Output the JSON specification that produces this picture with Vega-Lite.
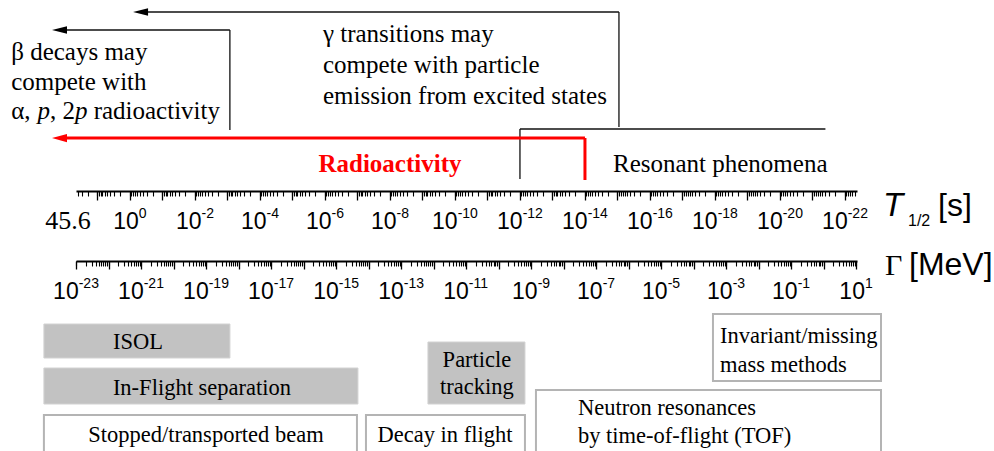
{
  "$schema": "https://vega.github.io/schema/vega-lite/v6.json",
  "width": 994,
  "height": 451,
  "autosize": {"type": "none"},
  "padding": 0,
  "background": "white",
  "config": {"view": {"stroke": null}},
  "datasets": {
    "tl": [
      {"t": 1, "e": "0", "y": 229},
      {"t": 1e-2, "e": "-2", "y": 229},
      {"t": 1e-4, "e": "-4", "y": 229},
      {"t": 1e-6, "e": "-6", "y": 229},
      {"t": 1e-8, "e": "-8", "y": 229},
      {"t": 1e-10, "e": "-10", "y": 229},
      {"t": 1e-12, "e": "-12", "y": 229},
      {"t": 1e-14, "e": "-14", "y": 229},
      {"t": 1e-16, "e": "-16", "y": 229},
      {"t": 1e-18, "e": "-18", "y": 229},
      {"t": 1e-20, "e": "-20", "y": 229},
      {"t": 1e-22, "e": "-22", "y": 229}
    ],
    "gl": [
      {"g": 1e-23, "e": "-23", "y": 299},
      {"g": 1e-21, "e": "-21", "y": 299},
      {"g": 1e-19, "e": "-19", "y": 299},
      {"g": 1e-17, "e": "-17", "y": 299},
      {"g": 1e-15, "e": "-15", "y": 299},
      {"g": 1e-13, "e": "-13", "y": 299},
      {"g": 1e-11, "e": "-11", "y": 299},
      {"g": 1e-9, "e": "-9", "y": 299},
      {"g": 1e-7, "e": "-7", "y": 299},
      {"g": 1e-5, "e": "-5", "y": 299},
      {"g": 1e-3, "e": "-3", "y": 299},
      {"g": 1e-1, "e": "-1", "y": 299},
      {"g": 10, "e": "1", "y": 299}
    ],
    "lines": [
      {"kind": "gamma", "t": 9e-16, "t2": 0.459, "y": 12, "y2": 12},
      {"kind": "gamma", "t": 9e-16, "t2": 9e-16, "y": 12, "y2": 127},
      {"kind": "beta", "t": 8.4e-4, "t2": 142.6, "y": 30, "y2": 30},
      {"kind": "beta", "t": 8.4e-4, "t2": 8.4e-4, "y": 30, "y2": 130},
      {"kind": "resonant", "t": 1e-12, "t2": 4e-22, "y": 129, "y2": 129},
      {"kind": "resonant", "t": 1e-12, "t2": 1e-12, "y": 129, "y2": 179},
      {"kind": "radioactivity", "t": 1e-14, "t2": 142.6, "y": 138, "y2": 138},
      {"kind": "radioactivity", "t": 1e-14, "t2": 1e-14, "y": 138, "y2": 180}
    ],
    "arrows": [
      {"kind": "gamma", "t": 0.8, "y": 12},
      {"kind": "beta", "t": 250, "y": 30},
      {"kind": "radioactivity", "t": 250, "y": 138}
    ],
    "grayBoxes": [
      {"name": "ISOL", "t": 442.9, "t2": 8.38e-4, "y": 324, "y2": 358},
      {"name": "In-Flight separation", "t": 442.9, "t2": 9.66e-8, "y": 368, "y2": 404},
      {"name": "Particle tracking", "t": 6.77e-10, "t2": 7.02e-13, "y": 342, "y2": 404}
    ],
    "openBoxes": [
      {"name": "Stopped/transported beam", "t": 442.9, "t2": 1.035e-7, "y": 415, "y2": 462},
      {"name": "Decay in flight", "t": 5.47e-8, "t2": 7.02e-13, "y": 415, "y2": 462},
      {"name": "Invariant/missing mass methods", "t": 1.153e-18, "t2": 7.8e-24, "y": 314, "y2": 381},
      {"name": "Neutron resonances by TOF", "t": 3.22e-13, "t2": 7.8e-24, "y": 390, "y2": 462}
    ],
    "notes": [
      {"label": "β decays may", "t": 4500, "y": 60},
      {"label": "compete with", "t": 4500, "y": 89.5},
      {"label": "α,", "t": 4500, "y": 119},
      {"label": ", 2", "t": 289.5, "y": 119},
      {"label": "radioactivity", "t": 13.05, "y": 119},
      {"label": "γ transitions may", "t": 1.153e-6, "y": 42},
      {"label": "compete with particle", "t": 1.153e-6, "y": 73},
      {"label": "emission from excited states", "t": 1.153e-6, "y": 103.5},
      {"label": "Resonant phenomena", "t": 1.374e-15, "y": 172}
    ],
    "italic": [
      {"label": "p", "t": 702, "y": 119},
      {"label": "p", "t": 49.25, "y": 119}
    ],
    "bold": [
      {"label": "Radioactivity", "t": 1e-8, "y": 172}
    ],
    "boxText": [
      {"label": "ISOL", "t": 0.567, "y": 349},
      {"label": "In-Flight separation", "t": 6.09e-3, "y": 395},
      {"label": "Stopped/transported beam", "t": 4.59e-3, "y": 442},
      {"label": "Decay in flight", "t": 2.03e-10, "y": 442},
      {"label": "Particle", "t": 2.1e-11, "y": 367},
      {"label": "tracking", "t": 2.1e-11, "y": 394}
    ],
    "boxTextLeft": [
      {"label": "Invariant/missing", "t": 7.02e-19, "y": 343},
      {"label": "mass methods", "t": 7.02e-19, "y": 372},
      {"label": "Neutron resonances", "t": 1.64e-14, "y": 415},
      {"label": "by time-of-flight (TOF)", "t": 1.64e-14, "y": 443}
    ],
    "start": [
      {"label": "45.6", "t": 80.86, "y": 229}
    ],
    "sansBig": [
      {"label": "[s]", "t": 1.374e-25, "y": 216},
      {"label": "[MeV]", "t": 1.074e-24, "y": 275}
    ],
    "sansItalic": [
      {"label": "T", "t": 6.78e-24, "y": 216}
    ],
    "sansSmall": [
      {"label": "1/2", "t": 1.153e-24, "y": 226}
    ],
    "serifBig": [
      {"label": "Γ", "t": 5.88e-24, "y": 275}
    ]
  },
  "layer": [
    {
      "resolve": {"axis": {"x": "independent"}},
      "layer": [
        {
          "data": {"name": "tl"},
          "transform": [{"filter": "length(datum.e) == 1"}],
          "mark": {"type": "text", "font": "Liberation Sans", "fontSize": 23, "align": "right", "baseline": "alphabetic", "dx": 8.9},
          "encoding": {
            "x": {"field": "t", "type": "quantitative", "scale": {"type": "log", "domain": [45.6, 4.27e-23], "range": [76, 857], "nice": false},
              "axis": {"orient": "bottom", "offset": -260, "labels": false, "title": null, "grid": false, "domain": true, "domainColor": "#000", "domainWidth": 2, "ticks": true, "tickColor": "#000", "tickWidth": 1.1, "tickCount": 40, "tickSize": 5}},
            "y": {"field": "y", "type": "quantitative", "scale": {"domain": [0, 451], "range": [0, 451]}, "axis": null},
            "text": {"value": "10"}
          }
        },
        {
          "data": {"name": "tl"},
          "transform": [{"filter": "length(datum.e) == 1"}],
          "mark": {"type": "text", "font": "Liberation Sans", "fontSize": 14, "align": "left", "baseline": "alphabetic", "dx": 8.9, "dy": -11},
          "encoding": {
            "x": {"field": "t", "type": "quantitative", "scale": {"type": "log", "domain": [45.6, 4.27e-23], "range": [76, 857], "nice": false},
              "axis": {"orient": "bottom", "offset": -260, "labels": false, "title": null, "grid": false, "domain": false, "ticks": true, "tickColor": "#000", "tickWidth": 1.3, "tickCount": 20, "tickSize": 9}},
            "y": {"field": "y", "type": "quantitative", "scale": {"domain": [0, 451], "range": [0, 451]}, "axis": null},
            "text": {"field": "e"}
          }
        },
        {
          "data": {"name": "tl"},
          "transform": [{"filter": "length(datum.e) == 2"}],
          "mark": {"type": "text", "font": "Liberation Sans", "fontSize": 23, "align": "right", "baseline": "alphabetic", "dx": 6.6},
          "encoding": {
            "x": {"field": "t", "type": "quantitative", "scale": {"type": "log", "domain": [45.6, 4.27e-23], "range": [76, 857], "nice": false}, "axis": null},
            "y": {"field": "y", "type": "quantitative", "scale": {"domain": [0, 451], "range": [0, 451]}, "axis": null},
            "text": {"value": "10"}
          }
        },
        {
          "data": {"name": "tl"},
          "transform": [{"filter": "length(datum.e) == 2"}],
          "mark": {"type": "text", "font": "Liberation Sans", "fontSize": 14, "align": "left", "baseline": "alphabetic", "dx": 6.6, "dy": -11},
          "encoding": {
            "x": {"field": "t", "type": "quantitative", "scale": {"type": "log", "domain": [45.6, 4.27e-23], "range": [76, 857], "nice": false}, "axis": null},
            "y": {"field": "y", "type": "quantitative", "scale": {"domain": [0, 451], "range": [0, 451]}, "axis": null},
            "text": {"field": "e"}
          }
        },
        {
          "data": {"name": "tl"},
          "transform": [{"filter": "length(datum.e) == 3"}],
          "mark": {"type": "text", "font": "Liberation Sans", "fontSize": 23, "align": "right", "baseline": "alphabetic", "dx": 2.7},
          "encoding": {
            "x": {"field": "t", "type": "quantitative", "scale": {"type": "log", "domain": [45.6, 4.27e-23], "range": [76, 857], "nice": false}, "axis": null},
            "y": {"field": "y", "type": "quantitative", "scale": {"domain": [0, 451], "range": [0, 451]}, "axis": null},
            "text": {"value": "10"}
          }
        },
        {
          "data": {"name": "tl"},
          "transform": [{"filter": "length(datum.e) == 3"}],
          "mark": {"type": "text", "font": "Liberation Sans", "fontSize": 14, "align": "left", "baseline": "alphabetic", "dx": 2.7, "dy": -11},
          "encoding": {
            "x": {"field": "t", "type": "quantitative", "scale": {"type": "log", "domain": [45.6, 4.27e-23], "range": [76, 857], "nice": false}, "axis": null},
            "y": {"field": "y", "type": "quantitative", "scale": {"domain": [0, 451], "range": [0, 451]}, "axis": null},
            "text": {"field": "e"}
          }
        },
        {
          "data": {"name": "start"},
          "mark": {"type": "text", "font": "Liberation Serif", "fontSize": 26, "align": "center", "baseline": "alphabetic"},
          "encoding": {
            "x": {"field": "t", "type": "quantitative", "scale": {"type": "log", "domain": [45.6, 4.27e-23], "range": [76, 857], "nice": false}, "axis": null},
            "y": {"field": "y", "type": "quantitative", "scale": {"domain": [0, 451], "range": [0, 451]}, "axis": null},
            "text": {"field": "label"}
          }
        },
        {
          "data": {"name": "grayBoxes"},
          "mark": {"type": "rect", "fill": "#c2c2c2", "stroke": "#d2d2d2", "strokeWidth": 1},
          "encoding": {
            "x": {"field": "t", "type": "quantitative", "scale": {"type": "log", "domain": [45.6, 4.27e-23], "range": [76, 857], "nice": false}, "axis": null},
            "x2": {"field": "t2"},
            "y": {"field": "y", "type": "quantitative", "scale": {"domain": [0, 451], "range": [0, 451]}, "axis": null},
            "y2": {"field": "y2"}
          }
        },
        {
          "data": {"name": "openBoxes"},
          "mark": {"type": "rect", "fill": "white", "stroke": "#b4b4b4", "strokeWidth": 2},
          "encoding": {
            "x": {"field": "t", "type": "quantitative", "scale": {"type": "log", "domain": [45.6, 4.27e-23], "range": [76, 857], "nice": false}, "axis": null},
            "x2": {"field": "t2"},
            "y": {"field": "y", "type": "quantitative", "scale": {"domain": [0, 451], "range": [0, 451]}, "axis": null},
            "y2": {"field": "y2"}
          }
        },
        {
          "data": {"name": "lines"},
          "transform": [{"filter": "datum.kind != 'radioactivity'"}],
          "mark": {"type": "rule", "color": "#111", "strokeWidth": 1.3},
          "encoding": {
            "x": {"field": "t", "type": "quantitative", "scale": {"type": "log", "domain": [45.6, 4.27e-23], "range": [76, 857], "nice": false}, "axis": null},
            "x2": {"field": "t2"},
            "y": {"field": "y", "type": "quantitative", "scale": {"domain": [0, 451], "range": [0, 451]}, "axis": null},
            "y2": {"field": "y2"}
          }
        },
        {
          "data": {"name": "lines"},
          "transform": [{"filter": "datum.kind == 'radioactivity'"}],
          "mark": {"type": "rule", "color": "#ff0000", "strokeWidth": 3},
          "encoding": {
            "x": {"field": "t", "type": "quantitative", "scale": {"type": "log", "domain": [45.6, 4.27e-23], "range": [76, 857], "nice": false}, "axis": null},
            "x2": {"field": "t2"},
            "y": {"field": "y", "type": "quantitative", "scale": {"domain": [0, 451], "range": [0, 451]}, "axis": null},
            "y2": {"field": "y2"}
          }
        },
        {
          "data": {"name": "arrows"},
          "transform": [{"filter": "datum.kind != 'radioactivity'"}],
          "mark": {"type": "point", "shape": "M 0 0 L 2 -0.5 L 2 0.5 Z", "size": 225, "filled": true, "color": "#000", "opacity": 1, "strokeWidth": 0},
          "encoding": {
            "x": {"field": "t", "type": "quantitative", "scale": {"type": "log", "domain": [45.6, 4.27e-23], "range": [76, 857], "nice": false}, "axis": null},
            "y": {"field": "y", "type": "quantitative", "scale": {"domain": [0, 451], "range": [0, 451]}, "axis": null}
          }
        },
        {
          "data": {"name": "arrows"},
          "transform": [{"filter": "datum.kind == 'radioactivity'"}],
          "mark": {"type": "point", "shape": "M 0 0 L 2 -0.55 L 2 0.55 Z", "size": 225, "filled": true, "color": "#ff0000", "opacity": 1, "strokeWidth": 0},
          "encoding": {
            "x": {"field": "t", "type": "quantitative", "scale": {"type": "log", "domain": [45.6, 4.27e-23], "range": [76, 857], "nice": false}, "axis": null},
            "y": {"field": "y", "type": "quantitative", "scale": {"domain": [0, 451], "range": [0, 451]}, "axis": null}
          }
        },
        {
          "data": {"name": "notes"},
          "mark": {"type": "text", "font": "Liberation Serif", "fontSize": 25, "align": "left", "baseline": "alphabetic", "color": "#000"},
          "encoding": {
            "x": {"field": "t", "type": "quantitative", "scale": {"type": "log", "domain": [45.6, 4.27e-23], "range": [76, 857], "nice": false}, "axis": null},
            "y": {"field": "y", "type": "quantitative", "scale": {"domain": [0, 451], "range": [0, 451]}, "axis": null},
            "text": {"field": "label"}
          }
        },
        {
          "data": {"name": "italic"},
          "mark": {"type": "text", "font": "Liberation Serif", "fontSize": 25, "fontStyle": "italic", "align": "left", "baseline": "alphabetic", "color": "#000"},
          "encoding": {
            "x": {"field": "t", "type": "quantitative", "scale": {"type": "log", "domain": [45.6, 4.27e-23], "range": [76, 857], "nice": false}, "axis": null},
            "y": {"field": "y", "type": "quantitative", "scale": {"domain": [0, 451], "range": [0, 451]}, "axis": null},
            "text": {"field": "label"}
          }
        },
        {
          "data": {"name": "bold"},
          "mark": {"type": "text", "font": "Liberation Serif", "fontSize": 25, "fontWeight": "bold", "align": "center", "baseline": "alphabetic", "color": "#ff0000"},
          "encoding": {
            "x": {"field": "t", "type": "quantitative", "scale": {"type": "log", "domain": [45.6, 4.27e-23], "range": [76, 857], "nice": false}, "axis": null},
            "y": {"field": "y", "type": "quantitative", "scale": {"domain": [0, 451], "range": [0, 451]}, "axis": null},
            "text": {"field": "label"}
          }
        },
        {
          "data": {"name": "boxText"},
          "mark": {"type": "text", "font": "Liberation Serif", "fontSize": 22.5, "align": "center", "baseline": "alphabetic", "color": "#000"},
          "encoding": {
            "x": {"field": "t", "type": "quantitative", "scale": {"type": "log", "domain": [45.6, 4.27e-23], "range": [76, 857], "nice": false}, "axis": null},
            "y": {"field": "y", "type": "quantitative", "scale": {"domain": [0, 451], "range": [0, 451]}, "axis": null},
            "text": {"field": "label"}
          }
        },
        {
          "data": {"name": "boxTextLeft"},
          "mark": {"type": "text", "font": "Liberation Serif", "fontSize": 22.5, "align": "left", "baseline": "alphabetic", "color": "#000"},
          "encoding": {
            "x": {"field": "t", "type": "quantitative", "scale": {"type": "log", "domain": [45.6, 4.27e-23], "range": [76, 857], "nice": false}, "axis": null},
            "y": {"field": "y", "type": "quantitative", "scale": {"domain": [0, 451], "range": [0, 451]}, "axis": null},
            "text": {"field": "label"}
          }
        },
        {
          "data": {"name": "sansBig"},
          "mark": {"type": "text", "font": "Liberation Sans", "fontSize": 32, "align": "left", "baseline": "alphabetic", "color": "#000"},
          "encoding": {
            "x": {"field": "t", "type": "quantitative", "scale": {"type": "log", "domain": [45.6, 4.27e-23], "range": [76, 857], "nice": false}, "axis": null},
            "y": {"field": "y", "type": "quantitative", "scale": {"domain": [0, 451], "range": [0, 451]}, "axis": null},
            "text": {"field": "label"}
          }
        },
        {
          "data": {"name": "sansItalic"},
          "mark": {"type": "text", "font": "Liberation Sans", "fontSize": 33, "fontStyle": "italic", "align": "left", "baseline": "alphabetic", "color": "#000"},
          "encoding": {
            "x": {"field": "t", "type": "quantitative", "scale": {"type": "log", "domain": [45.6, 4.27e-23], "range": [76, 857], "nice": false}, "axis": null},
            "y": {"field": "y", "type": "quantitative", "scale": {"domain": [0, 451], "range": [0, 451]}, "axis": null},
            "text": {"field": "label"}
          }
        },
        {
          "data": {"name": "sansSmall"},
          "mark": {"type": "text", "font": "Liberation Sans", "fontSize": 16, "align": "left", "baseline": "alphabetic", "color": "#000"},
          "encoding": {
            "x": {"field": "t", "type": "quantitative", "scale": {"type": "log", "domain": [45.6, 4.27e-23], "range": [76, 857], "nice": false}, "axis": null},
            "y": {"field": "y", "type": "quantitative", "scale": {"domain": [0, 451], "range": [0, 451]}, "axis": null},
            "text": {"field": "label"}
          }
        },
        {
          "data": {"name": "serifBig"},
          "mark": {"type": "text", "font": "Liberation Serif", "fontSize": 30, "align": "left", "baseline": "alphabetic", "color": "#000"},
          "encoding": {
            "x": {"field": "t", "type": "quantitative", "scale": {"type": "log", "domain": [45.6, 4.27e-23], "range": [76, 857], "nice": false}, "axis": null},
            "y": {"field": "y", "type": "quantitative", "scale": {"domain": [0, 451], "range": [0, 451]}, "axis": null},
            "text": {"field": "label"}
          }
        }
      ]
    },
    {
      "resolve": {"axis": {"x": "independent"}},
      "layer": [
        {
          "data": {"name": "gl"},
          "transform": [{"filter": "length(datum.e) == 1"}],
          "mark": {"type": "text", "font": "Liberation Sans", "fontSize": 23, "align": "right", "baseline": "alphabetic", "dx": 8.9},
          "encoding": {
            "x": {"field": "g", "type": "quantitative", "scale": {"type": "log", "domain": [1e-23, 10.685], "range": [76, 857], "nice": false},
              "axis": {"orient": "bottom", "offset": -190, "labels": false, "title": null, "grid": false, "domain": true, "domainColor": "#000", "domainWidth": 2, "ticks": true, "tickColor": "#000", "tickWidth": 1.1, "tickCount": 40, "tickSize": 5}},
            "y": {"field": "y", "type": "quantitative", "scale": {"domain": [0, 451], "range": [0, 451]}, "axis": null},
            "text": {"value": "10"}
          }
        },
        {
          "data": {"name": "gl"},
          "transform": [{"filter": "length(datum.e) == 1"}],
          "mark": {"type": "text", "font": "Liberation Sans", "fontSize": 14, "align": "left", "baseline": "alphabetic", "dx": 8.9, "dy": -11},
          "encoding": {
            "x": {"field": "g", "type": "quantitative", "scale": {"type": "log", "domain": [1e-23, 10.685], "range": [76, 857], "nice": false},
              "axis": {"orient": "bottom", "offset": -190, "labels": false, "title": null, "grid": false, "domain": false, "ticks": true, "tickColor": "#000", "tickWidth": 1.3, "tickCount": 20, "tickSize": 8}},
            "y": {"field": "y", "type": "quantitative", "scale": {"domain": [0, 451], "range": [0, 451]}, "axis": null},
            "text": {"field": "e"}
          }
        },
        {
          "data": {"name": "gl"},
          "transform": [{"filter": "length(datum.e) == 2"}],
          "mark": {"type": "text", "font": "Liberation Sans", "fontSize": 23, "align": "right", "baseline": "alphabetic", "dx": 6.6},
          "encoding": {
            "x": {"field": "g", "type": "quantitative", "scale": {"type": "log", "domain": [1e-23, 10.685], "range": [76, 857], "nice": false}, "axis": null},
            "y": {"field": "y", "type": "quantitative", "scale": {"domain": [0, 451], "range": [0, 451]}, "axis": null},
            "text": {"value": "10"}
          }
        },
        {
          "data": {"name": "gl"},
          "transform": [{"filter": "length(datum.e) == 2"}],
          "mark": {"type": "text", "font": "Liberation Sans", "fontSize": 14, "align": "left", "baseline": "alphabetic", "dx": 6.6, "dy": -11},
          "encoding": {
            "x": {"field": "g", "type": "quantitative", "scale": {"type": "log", "domain": [1e-23, 10.685], "range": [76, 857], "nice": false}, "axis": null},
            "y": {"field": "y", "type": "quantitative", "scale": {"domain": [0, 451], "range": [0, 451]}, "axis": null},
            "text": {"field": "e"}
          }
        },
        {
          "data": {"name": "gl"},
          "transform": [{"filter": "length(datum.e) == 3"}],
          "mark": {"type": "text", "font": "Liberation Sans", "fontSize": 23, "align": "right", "baseline": "alphabetic", "dx": 2.7},
          "encoding": {
            "x": {"field": "g", "type": "quantitative", "scale": {"type": "log", "domain": [1e-23, 10.685], "range": [76, 857], "nice": false}, "axis": null},
            "y": {"field": "y", "type": "quantitative", "scale": {"domain": [0, 451], "range": [0, 451]}, "axis": null},
            "text": {"value": "10"}
          }
        },
        {
          "data": {"name": "gl"},
          "transform": [{"filter": "length(datum.e) == 3"}],
          "mark": {"type": "text", "font": "Liberation Sans", "fontSize": 14, "align": "left", "baseline": "alphabetic", "dx": 2.7, "dy": -11},
          "encoding": {
            "x": {"field": "g", "type": "quantitative", "scale": {"type": "log", "domain": [1e-23, 10.685], "range": [76, 857], "nice": false}, "axis": null},
            "y": {"field": "y", "type": "quantitative", "scale": {"domain": [0, 451], "range": [0, 451]}, "axis": null},
            "text": {"field": "e"}
          }
        }
      ]
    }
  ],
  "resolve": {"scale": {"x": "independent"}, "axis": {"x": "independent"}}
}
